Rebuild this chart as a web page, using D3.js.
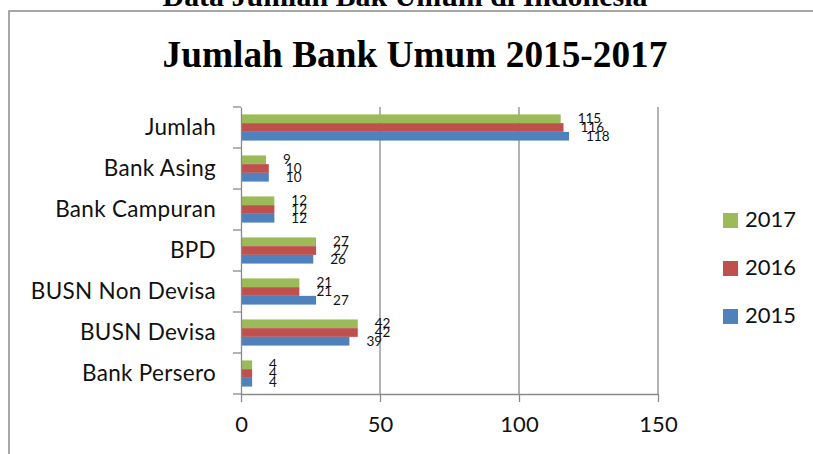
<!DOCTYPE html>
<html><head><meta charset="utf-8">
<script src="https://cdn.jsdelivr.net/npm/d3@7"></script>
<style>body{margin:0;background:#fff;}svg{display:block;}</style>
</head><body>
<svg id="c" width="813" height="454"></svg>
<script>
const categories = ["Jumlah","Bank Asing","Bank Campuran","BPD","BUSN Non Devisa","BUSN Devisa","Bank Persero"];
const years = ["2017","2016","2015"];
const values2017 = [115,9,12,27,21,42,4];
const values2016 = [116,10,12,27,21,42,4];
const values2015 = [118,10,12,26,27,39,4];
const xTicks = [0,50,100,150];
const colors = {"2017":"#9BBB59","2016":"#C0504D","2015":"#4F81BD"};
const seriesValues = {"2017":values2017,"2016":values2016,"2015":values2015};

const svg = d3.select("#c");
const fontSans = "Lato, 'Open Sans', sans-serif";

// outer frame
svg.append("rect").attr("x",9).attr("y",11).attr("width",820).attr("height",460)
  .attr("fill","none").attr("stroke","#8a8a8a").attr("stroke-width",1.5);

function fitText(sel, target){
  const len = sel.node().getComputedTextLength();
  const fs = parseFloat(sel.attr("font-size"));
  sel.attr("font-size", fs*target/len);
}
// page heading (cut off at top)
const h = svg.append("text").attr("x",405).attr("y",6).attr("text-anchor","middle")
  .attr("font-family","'Liberation Serif', 'Times New Roman', serif").attr("font-weight","bold")
  .attr("font-size",26).text("Data Jumlah Bak Umum di Indonesia");
fitText(h,485);

// chart title
const t = svg.append("text").attr("x",415).attr("y",67).attr("text-anchor","middle")
  .attr("font-family","'Liberation Serif', 'Times New Roman', serif").attr("font-weight","bold")
  .attr("font-size",34).text("Jumlah Bank Umum 2015-2017");
fitText(t,505);

const x = d3.scaleLinear().domain([0,150]).range([241,658]);
const y = d3.scaleBand().domain(categories).range([107,394]).padding(0);
const inner = d3.scaleBand().domain(years).range([0,y.bandwidth()]).paddingOuter(0.85).paddingInner(0);

// gridlines
svg.append("g").selectAll("line").data(xTicks.filter(d=>d>0)).join("line")
  .attr("x1",d=>x(d)).attr("x2",d=>x(d)).attr("y1",107).attr("y2",394)
  .attr("stroke","#8a8a8a").attr("stroke-width",1.3);

// bars
const groups = svg.append("g").selectAll("g").data(categories).join("g")
  .attr("transform",d=>`translate(0,${y(d)})`);
years.forEach(yr=>{
  groups.append("rect")
    .attr("x",x(0))
    .attr("y",inner(yr))
    .attr("width",(d,i)=>x(seriesValues[yr][i])-x(0))
    .attr("height",inner.bandwidth())
    .attr("fill",colors[yr]);
  groups.append("text")
    .attr("x",(d,i)=>x(seriesValues[yr][i])+17)
    .attr("y",inner(yr)+inner.bandwidth()/2+1)
    .attr("dominant-baseline","middle")
    .attr("font-family",fontSans).attr("font-size",13.5).attr("fill","#111")
    .text((d,i)=>seriesValues[yr][i]);
});

// y axis
const yAxis = svg.append("g").attr("transform",`translate(${x(0)},0)`)
  .call(d3.axisLeft(y).tickSize(0).tickPadding(25));
yAxis.select(".domain").attr("stroke","#8a8a8a").attr("stroke-width",1.3);
yAxis.selectAll("text").attr("font-family",fontSans).attr("font-size",22.5)
  .attr("letter-spacing","0.3px").attr("fill","#111");
// y boundary ticks
const bounds = categories.map(c=>y(c)).concat([y.range()[1]]);
svg.append("g").selectAll("line").data(bounds).join("line")
  .attr("x1",x(0)-8).attr("x2",x(0)).attr("y1",d=>d).attr("y2",d=>d)
  .attr("stroke","#8a8a8a").attr("stroke-width",1.3);

// x axis
const xAxis = svg.append("g").attr("transform",`translate(0,394)`)
  .call(d3.axisBottom(x).tickValues(xTicks).tickSize(8).tickPadding(14).tickSizeOuter(0));
xAxis.select(".domain").attr("stroke","#8a8a8a").attr("stroke-width",1.3);
xAxis.selectAll(".tick line").attr("stroke","#8a8a8a").attr("stroke-width",1.3);
xAxis.selectAll("text").attr("font-family",fontSans).attr("font-size",22).attr("fill","#111");

// legend
const lg = svg.append("g").selectAll("g").data(years).join("g")
  .attr("transform",(d,i)=>`translate(723,${213+i*48})`);
lg.append("rect").attr("width",15).attr("height",15).attr("fill",d=>colors[d]);
lg.append("text").attr("x",22).attr("y",8).attr("dominant-baseline","middle")
  .attr("font-family",fontSans).attr("font-size",22).attr("fill","#111").text(d=>d);
</script>
</body></html>
